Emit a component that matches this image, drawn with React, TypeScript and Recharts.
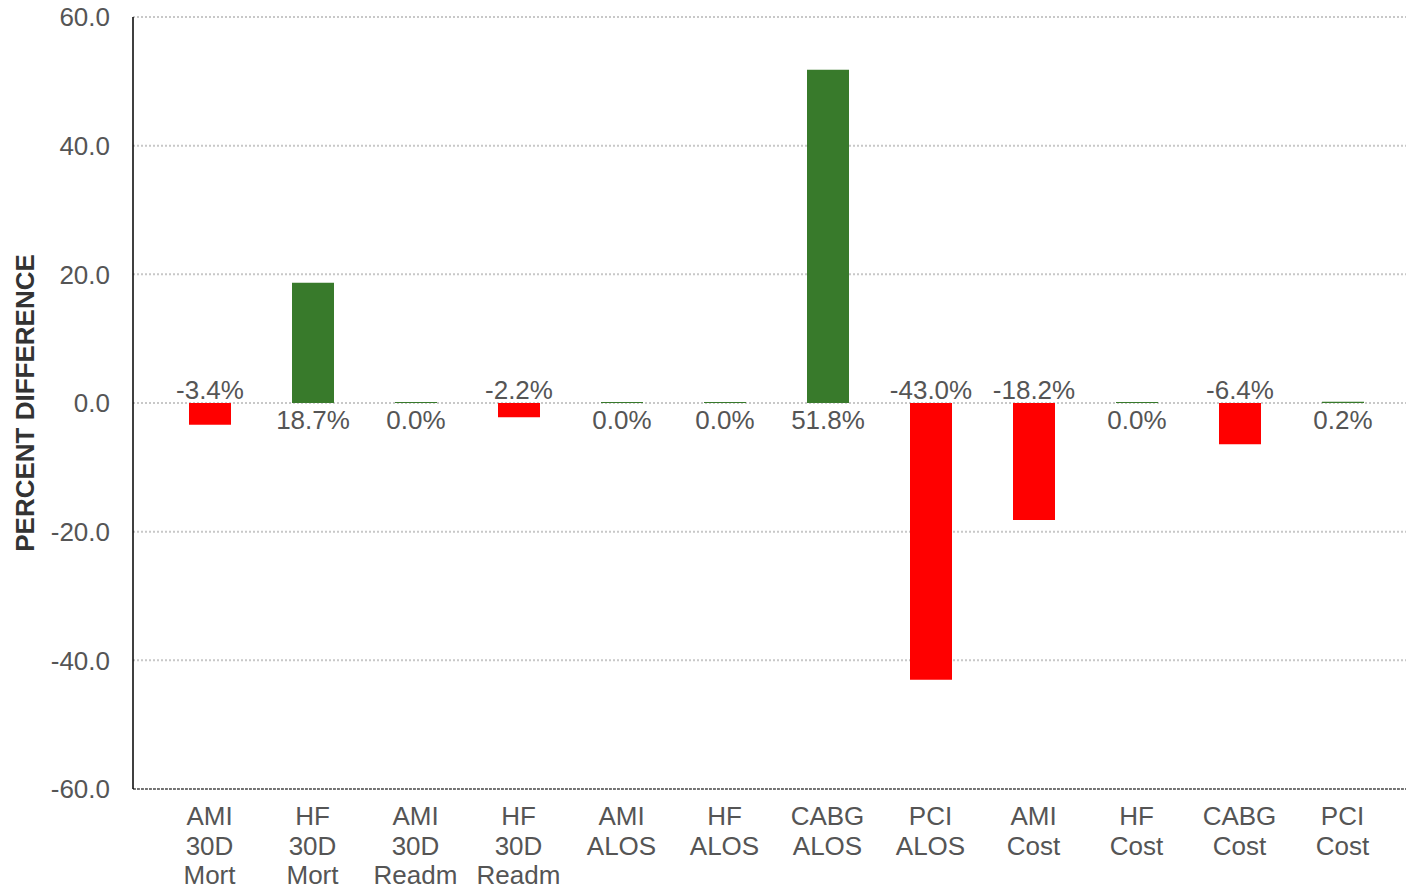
import React from 'react';
import { BarChart, Bar, XAxis, YAxis, CartesianGrid, Cell, LabelList } from 'recharts';

const categories = [
  'AMI 30D Mort',
  'HF 30D Mort',
  'AMI 30D Readm',
  'HF 30D Readm',
  'AMI ALOS',
  'HF ALOS',
  'CABG ALOS',
  'PCI ALOS',
  'AMI Cost',
  'HF Cost',
  'CABG Cost',
  'PCI Cost',
];
const diffValues = [-3.4, 18.7, 0.0, -2.2, 0.0, 0.0, 51.8, -43.0, -18.2, 0.0, -6.4, 0.2];
const yTicks = [-60, -40, -20, 0, 20, 40, 60];

const data = categories.map((name, i) => ({ name, diff: diffValues[i] }));

const GREEN = '#387a2b';
const RED = '#ff0000';
const TEXT = '#555555';
const FONT = 'Arial, "Liberation Sans", sans-serif';

const CategoryTick = (props: any) => {
  const { x, y, payload } = props;
  const lines = String(payload.value).split(' ');
  return (
    <text x={x} y={y + 28} textAnchor="middle" fill={TEXT} fontSize={26} fontFamily={FONT}>
      {lines.map((l: string, i: number) => (
        <tspan key={i} x={x} dy={i === 0 ? 0 : 29.5}>
          {l}
        </tspan>
      ))}
    </text>
  );
};

const ValueLabel = (props: any) => {
  const { x, y, width, height, value } = props;
  const top = Math.min(y, y + height);
  const bottom = Math.max(y, y + height);
  const cx = x + width / 2;
  const ty = value >= 0 ? bottom + 26 : top - 4;
  return (
    <text x={cx} y={ty} textAnchor="middle" fill={TEXT} fontSize={26} fontFamily={FONT}>
      {`${value.toFixed(1)}%`}
    </text>
  );
};

export default function App() {
  return (
    <div style={{ position: 'absolute', left: 0, top: 0, background: '#fff' }}>
      <BarChart
        width={1406}
        height={889}
        data={data}
        margin={{ top: 17, right: 0, left: 0, bottom: 0 }}
      >
        <CartesianGrid
          vertical={false}
          stroke="#c8c8c8"
          strokeWidth={2}
          strokeDasharray="2 2"
        />
        <XAxis
          dataKey="name"
          interval={0}
          tick={<CategoryTick />}
          tickLine={false}
          height={100}
          padding={{ left: 25, right: 12 }}
          axisLine={{ stroke: '#555', strokeWidth: 1.5, strokeDasharray: '3 1' }}
        />
        <YAxis
          width={133}
          domain={[-60, 60]}
          ticks={yTicks}
          interval={0}
          tickFormatter={(v: number) => v.toFixed(1)}
          tick={{ fill: TEXT, fontSize: 26, fontFamily: FONT }}
          tickLine={false}
          tickMargin={17}
          axisLine={{ stroke: '#000', strokeWidth: 1.5 }}
          label={{
            value: 'PERCENT DIFFERENCE',
            angle: -90,
            position: 'insideLeft',
            offset: 25,
            style: { fill: '#333', fontSize: 26, fontWeight: 'bold', fontFamily: FONT, textAnchor: 'middle' },
          }}
        />
        <Bar dataKey="diff" barSize={42} minPointSize={1} isAnimationActive={false}>
          {data.map((d, i) => (
            <Cell key={i} fill={d.diff >= 0 ? GREEN : RED} />
          ))}
          <LabelList dataKey="diff" content={<ValueLabel />} />
        </Bar>
      </BarChart>
    </div>
  );
}
